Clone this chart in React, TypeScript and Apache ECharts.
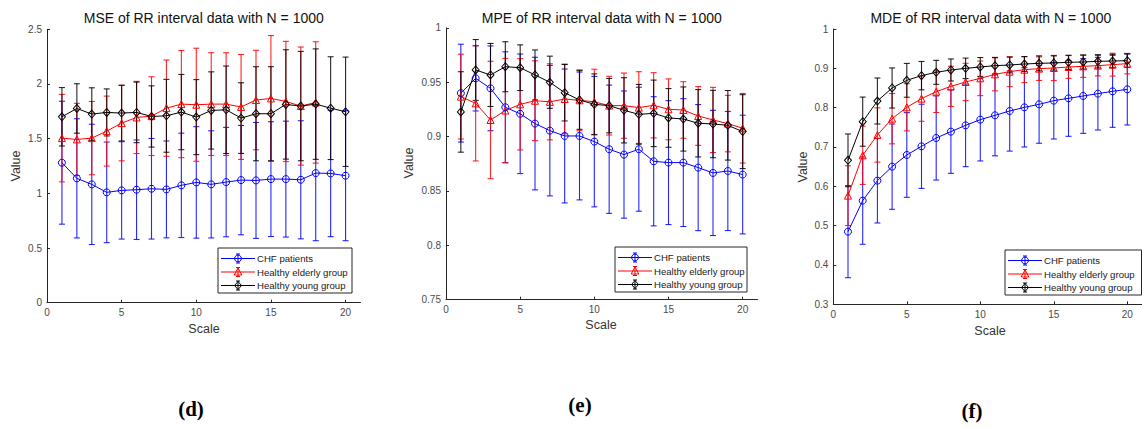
import React, { useEffect, useRef } from "react";
import * as echarts from "echarts";

// ---------- data ----------
const scales = [1, 2, 3, 4, 5, 6, 7, 8, 9, 10, 11, 12, 13, 14, 15, 16, 17, 18, 19, 20];
const groupNames = ["CHF patients", "Healthy elderly group", "Healthy young group"];
const xTickValues = [0, 5, 10, 15, 20];

// (d) MSE
const mseChfMean = [1.28, 1.137, 1.082, 1.009, 1.027, 1.033, 1.042, 1.036, 1.073, 1.1, 1.082, 1.103, 1.121, 1.118, 1.13, 1.13, 1.124, 1.185, 1.182, 1.161];
const mseChfSd = [0.562, 0.545, 0.55, 0.46, 0.445, 0.455, 0.46, 0.443, 0.477, 0.51, 0.49, 0.5, 0.5, 0.53, 0.525, 0.53, 0.54, 0.618, 0.578, 0.594];
const mseElderMean = [1.505, 1.493, 1.505, 1.569, 1.642, 1.694, 1.706, 1.779, 1.816, 1.81, 1.816, 1.816, 1.79, 1.853, 1.868, 1.84, 1.798, 1.831];
const mseElderSd = [0.4, 0.33, 0.335, 0.32, 0.345, 0.33, 0.36, 0.44, 0.49, 0.517, 0.47, 0.47, 0.48, 0.455, 0.575, 0.55, 0.54, 0.555];
const mseYoungMean = [1.7, 1.776, 1.725, 1.74, 1.734, 1.74, 1.703, 1.709, 1.743, 1.697, 1.758, 1.764, 1.688, 1.728, 1.728, 1.813, 1.798, 1.816, 1.779, 1.746];
const mseYoungSd = [0.267, 0.226, 0.24, 0.215, 0.255, 0.277, 0.28, 0.333, 0.344, 0.343, 0.353, 0.4, 0.323, 0.43, 0.43, 0.5, 0.5, 0.505, 0.47, 0.5];

// (e) MPE
const mpeChfMean = [0.94, 0.9536, 0.9444, 0.927, 0.921, 0.912, 0.9055, 0.9006, 0.9006, 0.8954, 0.8884, 0.8835, 0.8884, 0.8773, 0.8761, 0.8761, 0.8715, 0.8666, 0.8684, 0.8651];
const mpeChfSd = [0.045, 0.03, 0.039, 0.051, 0.055, 0.061, 0.06, 0.0616, 0.0588, 0.06, 0.059, 0.0585, 0.057, 0.0594, 0.057, 0.0588, 0.058, 0.0576, 0.0548, 0.0546];
const mpeElderMean = [0.9368, 0.9306, 0.9153, 0.924, 0.9297, 0.933, 0.932, 0.9346, 0.9334, 0.932, 0.9285, 0.9285, 0.9267, 0.9288, 0.9251, 0.9245, 0.919, 0.9153, 0.912, 0.9077];
const mpeElderSd = [0.039, 0.053, 0.054, 0.048, 0.042, 0.0367, 0.035, 0.032, 0.028, 0.03, 0.027, 0.03, 0.033, 0.03, 0.028, 0.026, 0.027, 0.03, 0.026, 0.032];
const mpeYoungMean = [0.9227, 0.9613, 0.9567, 0.9643, 0.9634, 0.9567, 0.95, 0.9404, 0.9337, 0.9297, 0.9285, 0.9242, 0.9205, 0.9214, 0.9172, 0.9162, 0.9123, 0.9116, 0.9104, 0.9046];
const mpeYoungSd = [0.037, 0.028, 0.029, 0.023, 0.021, 0.023, 0.024, 0.026, 0.027, 0.028, 0.025, 0.03, 0.0275, 0.0306, 0.027, 0.0295, 0.031, 0.031, 0.032, 0.034];

// (f) MDE
const mdeChfMean = [0.4847, 0.5636, 0.6144, 0.65, 0.6797, 0.7017, 0.7229, 0.739, 0.755, 0.7695, 0.7805, 0.7915, 0.8008, 0.8085, 0.8178, 0.8237, 0.8297, 0.8356, 0.8415, 0.8466];
const mdeChfSd = [0.117, 0.111, 0.1076, 0.1085, 0.1077, 0.107, 0.107, 0.106, 0.105, 0.105, 0.103, 0.102, 0.1008, 0.099, 0.0975, 0.0966, 0.095, 0.0924, 0.0915, 0.0907];
const mdeElderMean = [0.5763, 0.6788, 0.7305, 0.772, 0.8008, 0.8229, 0.8407, 0.8542, 0.8653, 0.8746, 0.8847, 0.8915, 0.8966, 0.8992, 0.9008, 0.9034, 0.9051, 0.9068, 0.9093, 0.9119];
const mdeElderSd = [0.076, 0.074, 0.069, 0.064, 0.06, 0.0576, 0.053, 0.051, 0.0475, 0.044, 0.042, 0.038, 0.033, 0.03, 0.032, 0.029, 0.028, 0.026, 0.029, 0.026];
const mdeYoungMean = [0.6661, 0.7644, 0.8169, 0.85, 0.8695, 0.8814, 0.8898, 0.8958, 0.9, 0.9034, 0.9068, 0.9085, 0.911, 0.9127, 0.9136, 0.9153, 0.9161, 0.9178, 0.9186, 0.9195];
const mdeYoungSd = [0.067, 0.0625, 0.0585, 0.051, 0.043, 0.036, 0.0305, 0.028, 0.026, 0.024, 0.021, 0.02, 0.019, 0.019, 0.018, 0.018, 0.018, 0.017, 0.017, 0.017];

// ---------- styles / layout ----------
const COLORS = ["#0000ff", "#ff0000", "#000000"];
const SYMBOLS = ["circle", "triangle", "diamond"];
const FONT = "Liberation Sans, Arial, Helvetica, sans-serif";
const AXIS_COLOR = "#262626";
const TICK_COLOR = "#4a4a4a";

const panels = [
  {
    title: "MSE of RR interval data with N = 1000",
    tag: "(d)",
    grid: { left: 47, top: 29.3, width: 313.5, height: 273.4 },
    y: { min: 0, max: 2.5, interval: 0.5 },
    groups: [
      [mseChfMean, mseChfSd],
      [mseElderMean, mseElderSd],
      [mseYoungMean, mseYoungSd],
    ],
    scaleLabel: [204, 329],
    valueLabel: [16, 166],
    tagPos: [191, 409],
    legend: { x: 218, y: 248, w: 134, h: 45 },
  },
  {
    title: "MPE of RR interval data with N = 1000",
    tag: "(e)",
    grid: { left: 446, top: 27.9, width: 311.5, height: 271.8 },
    y: { min: 0.75, max: 1, interval: 0.05 },
    groups: [
      [mpeChfMean, mpeChfSd],
      [mpeElderMean, mpeElderSd],
      [mpeYoungMean, mpeYoungSd],
    ],
    scaleLabel: [601, 325],
    valueLabel: [409, 163],
    tagPos: [580, 405],
    legend: { x: 615, y: 247, w: 132, h: 45 },
  },
  {
    title: "MDE of RR interval data with N = 1000",
    tag: "(f)",
    grid: { left: 833.3, top: 29, width: 315, height: 275.3 },
    y: { min: 0.3, max: 1, interval: 0.1 },
    groups: [
      [mdeChfMean, mdeChfSd],
      [mdeElderMean, mdeElderSd],
      [mdeYoungMean, mdeYoungSd],
    ],
    scaleLabel: [990, 331],
    valueLabel: [803, 167],
    tagPos: [972, 411],
    legend: { x: 1005, y: 250, w: 136.5, h: 45 },
  },
];

function makeErrorRender(color: string) {
  return (params: any, api: any) => {
    const x = api.value(0);
    const m = api.value(1);
    const s = api.value(2);
    const top = api.coord([x, m + s]);
    const bot = api.coord([x, m - s]);
    const w = 3;
    const style = { stroke: color, lineWidth: 1.1, opacity: 0.85 };
    return {
      type: "group",
      children: [
        { type: "line", shape: { x1: top[0], y1: top[1], x2: bot[0], y2: bot[1] }, style },
        { type: "line", shape: { x1: top[0] - w, y1: top[1], x2: top[0] + w, y2: top[1] }, style },
        { type: "line", shape: { x1: bot[0] - w, y1: bot[1], x2: bot[0] + w, y2: bot[1] }, style },
      ],
    };
  };
}

function markerGraphic(kind: number, cx: number, cy: number, color: string) {
  const style = { fill: "none", stroke: color, lineWidth: 1 };
  if (kind === 0) return { type: "circle", shape: { cx, cy, r: 3.4 }, style };
  if (kind === 1)
    return { type: "polygon", shape: { points: [[cx, cy - 4], [cx + 3.8, cy + 3], [cx - 3.8, cy + 3]] }, style };
  return { type: "polygon", shape: { points: [[cx, cy - 4], [cx + 3.5, cy], [cx, cy + 4], [cx - 3.5, cy]] }, style };
}

function legendGraphic(box: { x: number; y: number; w: number; h: number }) {
  const children: any[] = [
    { type: "rect", shape: { x: box.x, y: box.y, width: box.w, height: box.h }, style: { fill: "#fff", stroke: "#262626", lineWidth: 1 } },
  ];
  const offs = [10.5, 24, 37.5];
  groupNames.forEach((name, i) => {
    const cy = box.y + offs[i];
    const x1 = box.x + 3;
    const x2 = box.x + 37;
    const cx = (x1 + x2) / 2;
    const c = COLORS[i];
    const st = { stroke: c, lineWidth: 1 };
    children.push({ type: "line", shape: { x1, y1: cy, x2, y2: cy }, style: st });
    children.push({ type: "line", shape: { x1: cx, y1: cy - 4.5, x2: cx, y2: cy + 4.5 }, style: st });
    children.push({ type: "line", shape: { x1: cx - 2, y1: cy - 4.5, x2: cx + 2, y2: cy - 4.5 }, style: st });
    children.push({ type: "line", shape: { x1: cx - 2, y1: cy + 4.5, x2: cx + 2, y2: cy + 4.5 }, style: st });
    children.push(markerGraphic(i, cx, cy, c));
    children.push({
      type: "text",
      x: x2 + 2,
      y: cy,
      style: { text: name, fontSize: 9.6, fontFamily: FONT, fill: "#1a1a1a", align: "left", verticalAlign: "middle" },
    });
  });
  return { type: "group", z: 100, children };
}

function buildOption() {
  const grid: any[] = [];
  const xAxis: any[] = [];
  const yAxis: any[] = [];
  const series: any[] = [];
  const graphic: any[] = [];

  panels.forEach((p, pi) => {
    grid.push({ ...p.grid, containLabel: false });
    xAxis.push({
      type: "value",
      gridIndex: pi,
      min: 0,
      max: 21,
      interval: 5,
      axisLine: { show: true, lineStyle: { color: AXIS_COLOR, width: 1 } },
      axisTick: { show: true, inside: true, length: 3, customValues: xTickValues, lineStyle: { color: AXIS_COLOR } },
      axisLabel: { customValues: xTickValues, color: TICK_COLOR, fontSize: 10, fontFamily: FONT, margin: 5 },
      splitLine: { show: false },
    });
    yAxis.push({
      type: "value",
      gridIndex: pi,
      min: p.y.min,
      max: p.y.max,
      interval: p.y.interval,
      axisLine: { show: true, lineStyle: { color: AXIS_COLOR, width: 1 } },
      axisTick: { show: true, inside: true, length: 3, lineStyle: { color: AXIS_COLOR } },
      axisLabel: { color: TICK_COLOR, fontSize: 10, fontFamily: FONT, margin: 5 },
      splitLine: { show: false },
    });

    p.groups.forEach(([means, sds], gi) => {
      const color = COLORS[gi];
      series.push({
        type: "custom",
        name: groupNames[gi],
        xAxisIndex: pi,
        yAxisIndex: pi,
        silent: true,
        clip: false,
        z: 2,
        encode: { x: 0, y: 1 },
        data: means.map((m: number, k: number) => [scales[k], m, sds[k]]),
        renderItem: makeErrorRender(color),
      });
      series.push({
        type: "line",
        name: groupNames[gi],
        xAxisIndex: pi,
        yAxisIndex: pi,
        silent: true,
        z: 3,
        symbol: SYMBOLS[gi],
        symbolSize: gi === 2 ? [7, 8] : 7,
        showAllSymbol: true,
        lineStyle: { color, width: 1 },
        itemStyle: { color: "rgba(0,0,0,0)", borderColor: color, borderWidth: 1 },
        data: means.map((m: number, k: number) => [scales[k], m]),
      });
    });

    const cx = p.grid.left + p.grid.width / 2;
    graphic.push({
      type: "text",
      x: cx,
      y: 18,
      style: { text: p.title, fontSize: 14, fontFamily: FONT, fill: "#111", align: "center", verticalAlign: "middle" },
    });
    graphic.push({
      type: "text",
      x: p.scaleLabel[0],
      y: p.scaleLabel[1],
      style: { text: "Scale", fontSize: 12.5, fontFamily: FONT, fill: "#333", align: "center", verticalAlign: "middle" },
    });
    graphic.push({
      type: "text",
      x: p.valueLabel[0],
      y: p.valueLabel[1],
      rotation: Math.PI / 2,
      style: { text: "Value", fontSize: 12.5, fontFamily: FONT, fill: "#333", align: "center", verticalAlign: "middle" },
    });
    graphic.push({
      type: "text",
      x: p.tagPos[0],
      y: p.tagPos[1],
      style: { text: p.tag, fontSize: 21, fontWeight: "bold", fontFamily: "Liberation Serif, DejaVu Serif, serif", fill: "#000", align: "center", verticalAlign: "middle" },
    });
    graphic.push(legendGraphic(p.legend));
  });

  return {
    animation: false,
    backgroundColor: "#ffffff",
    grid,
    xAxis,
    yAxis,
    series,
    graphic,
  };
}

export default function App() {
  const ref = useRef<HTMLDivElement>(null);
  useEffect(() => {
    document.body.style.margin = "0";
    if (!ref.current) return;
    const chart = echarts.init(ref.current, undefined, { renderer: "svg" });
    chart.setOption(buildOption() as any);
    return () => chart.dispose();
  }, []);
  return <div ref={ref} style={{ width: 1142, height: 428, background: "#fff" }} />;
}
